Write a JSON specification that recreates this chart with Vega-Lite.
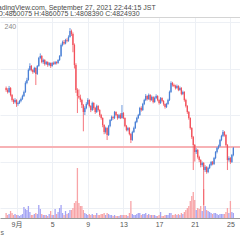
{
"$schema": "https://vega.github.io/schema/vega-lite/v6.json",
"autosize": "none",
"width": 240, "height": 201,
"padding": {"left": 0, "top": 17, "right": 0, "bottom": 22},
"background": "white",
"config": {"view": {"stroke": null}, "font": "Liberation Sans", "axis": {"labelOverlap": false, "labelBound": false, "labelFlush": false}},
"data": {"values": [
{"t":-28,"o":5332,"h":5345,"l":5300,"c":5315,"v":50},
{"t":-24,"o":5315,"h":5330,"l":5285,"c":5298,"v":30},
{"t":-20,"o":5298,"h":5350,"l":5290,"c":5332,"v":40},
{"t":-16,"o":5332,"h":5340,"l":5260,"c":5272,"v":70},
{"t":-12,"o":5272,"h":5280,"l":5215,"c":5229,"v":50},
{"t":-8,"o":5229,"h":5240,"l":5195,"c":5212,"v":30},
{"t":-4,"o":5212,"h":5245,"l":5200,"c":5229,"v":40},
{"t":0,"o":5229,"h":5235,"l":5170,"c":5195,"v":30},
{"t":4,"o":5195,"h":5215,"l":5180,"c":5203,"v":30},
{"t":8,"o":5203,"h":5230,"l":5195,"c":5221,"v":20},
{"t":12,"o":5221,"h":5250,"l":5210,"c":5238,"v":30},
{"t":16,"o":5238,"h":5275,"l":5230,"c":5264,"v":40},
{"t":20,"o":5264,"h":5310,"l":5255,"c":5298,"v":110},
{"t":24,"o":5298,"h":5390,"l":5290,"c":5375,"v":90},
{"t":28,"o":5375,"h":5420,"l":5365,"c":5401,"v":80},
{"t":32,"o":5401,"h":5500,"l":5395,"c":5487,"v":120},
{"t":36,"o":5487,"h":5545,"l":5478,"c":5522,"v":60},
{"t":40,"o":5522,"h":5530,"l":5475,"c":5487,"v":30},
{"t":44,"o":5487,"h":5495,"l":5455,"c":5470,"v":30},
{"t":48,"o":5470,"h":5515,"l":5462,"c":5504,"v":40},
{"t":52,"o":5504,"h":5510,"l":5358,"c":5453,"v":50},
{"t":56,"o":5453,"h":5530,"l":5445,"c":5522,"v":40},
{"t":60,"o":5522,"h":5600,"l":5515,"c":5590,"v":130},
{"t":64,"o":5590,"h":5630,"l":5580,"c":5608,"v":90},
{"t":68,"o":5608,"h":5615,"l":5545,"c":5556,"v":40},
{"t":72,"o":5556,"h":5585,"l":5540,"c":5573,"v":30},
{"t":76,"o":5573,"h":5580,"l":5525,"c":5539,"v":30},
{"t":80,"o":5539,"h":5565,"l":5530,"c":5556,"v":30},
{"t":84,"o":5556,"h":5562,"l":5515,"c":5530,"v":20},
{"t":88,"o":5530,"h":5555,"l":5520,"c":5547,"v":40},
{"t":92,"o":5547,"h":5552,"l":5505,"c":5522,"v":70},
{"t":96,"o":5522,"h":5555,"l":5515,"c":5547,"v":30},
{"t":100,"o":5547,"h":5560,"l":5530,"c":5539,"v":30},
{"t":104,"o":5539,"h":5565,"l":5532,"c":5556,"v":90},
{"t":108,"o":5556,"h":5562,"l":5535,"c":5547,"v":40},
{"t":112,"o":5547,"h":5580,"l":5540,"c":5573,"v":60},
{"t":116,"o":5573,"h":5615,"l":5565,"c":5608,"v":100},
{"t":120,"o":5608,"h":5715,"l":5600,"c":5702,"v":130},
{"t":124,"o":5702,"h":5740,"l":5690,"c":5728,"v":50},
{"t":128,"o":5728,"h":5745,"l":5705,"c":5715,"v":30},
{"t":132,"o":5715,"h":5755,"l":5708,"c":5745,"v":70},
{"t":136,"o":5745,"h":5760,"l":5725,"c":5738,"v":40},
{"t":140,"o":5738,"h":5785,"l":5730,"c":5771,"v":50},
{"t":144,"o":5771,"h":5848,"l":5765,"c":5823,"v":80},
{"t":148,"o":5823,"h":5835,"l":5780,"c":5797,"v":80},
{"t":152,"o":5797,"h":5810,"l":5640,"c":5702,"v":100},
{"t":156,"o":5702,"h":5715,"l":5500,"c":5530,"v":150},
{"t":160,"o":5530,"h":5545,"l":5290,"c":5315,"v":170},
{"t":164,"o":5315,"h":5330,"l":5117,"c":5264,"v":500},
{"t":168,"o":5264,"h":5320,"l":5240,"c":5250,"v":150},
{"t":172,"o":5250,"h":5275,"l":5210,"c":5229,"v":120},
{"t":176,"o":5229,"h":5240,"l":5160,"c":5186,"v":120},
{"t":180,"o":5186,"h":5195,"l":4960,"c":5126,"v":80},
{"t":184,"o":5126,"h":5175,"l":5100,"c":5160,"v":50},
{"t":188,"o":5160,"h":5210,"l":5150,"c":5195,"v":40},
{"t":192,"o":5195,"h":5245,"l":5185,"c":5229,"v":30},
{"t":196,"o":5229,"h":5235,"l":5165,"c":5178,"v":40},
{"t":200,"o":5178,"h":5185,"l":5125,"c":5143,"v":30},
{"t":204,"o":5143,"h":5215,"l":5135,"c":5203,"v":40},
{"t":208,"o":5203,"h":5210,"l":5145,"c":5160,"v":30},
{"t":212,"o":5160,"h":5170,"l":5110,"c":5126,"v":30},
{"t":216,"o":5126,"h":5190,"l":5118,"c":5178,"v":50},
{"t":220,"o":5178,"h":5185,"l":5130,"c":5143,"v":30},
{"t":224,"o":5143,"h":5150,"l":5085,"c":5100,"v":30},
{"t":228,"o":5100,"h":5110,"l":5060,"c":5074,"v":40},
{"t":232,"o":5074,"h":5080,"l":4995,"c":5014,"v":40},
{"t":236,"o":5014,"h":5020,"l":4935,"c":4954,"v":50},
{"t":240,"o":4954,"h":5000,"l":4940,"c":4988,"v":30},
{"t":244,"o":4988,"h":4995,"l":4885,"c":4928,"v":50},
{"t":248,"o":4928,"h":5015,"l":4920,"c":5006,"v":40},
{"t":252,"o":5006,"h":5065,"l":4995,"c":5057,"v":30},
{"t":256,"o":5057,"h":5095,"l":5048,"c":5083,"v":30},
{"t":260,"o":5083,"h":5092,"l":5060,"c":5074,"v":20},
{"t":264,"o":5074,"h":5135,"l":5065,"c":5126,"v":30},
{"t":268,"o":5126,"h":5132,"l":5090,"c":5100,"v":20},
{"t":272,"o":5100,"h":5108,"l":5060,"c":5074,"v":20},
{"t":276,"o":5074,"h":5110,"l":5068,"c":5100,"v":20},
{"t":280,"o":5100,"h":5115,"l":5065,"c":5074,"v":30},
{"t":284,"o":5074,"h":5186,"l":5068,"c":5117,"v":30},
{"t":288,"o":5117,"h":5125,"l":5065,"c":5074,"v":30},
{"t":292,"o":5074,"h":5080,"l":4995,"c":5006,"v":30},
{"t":296,"o":5006,"h":5015,"l":4960,"c":4971,"v":30},
{"t":300,"o":4971,"h":4998,"l":4960,"c":4988,"v":20},
{"t":304,"o":4988,"h":4995,"l":4925,"c":4937,"v":50},
{"t":308,"o":4937,"h":4945,"l":4859,"c":4885,"v":170},
{"t":312,"o":4885,"h":4965,"l":4878,"c":4954,"v":40},
{"t":316,"o":4954,"h":5000,"l":4945,"c":4988,"v":30},
{"t":320,"o":4988,"h":5050,"l":4980,"c":5040,"v":30},
{"t":324,"o":5040,"h":5085,"l":5030,"c":5074,"v":40},
{"t":328,"o":5074,"h":5110,"l":5065,"c":5100,"v":50},
{"t":332,"o":5100,"h":5170,"l":5092,"c":5160,"v":50},
{"t":336,"o":5160,"h":5175,"l":5130,"c":5143,"v":30},
{"t":340,"o":5143,"h":5205,"l":5135,"c":5195,"v":40},
{"t":344,"o":5195,"h":5240,"l":5185,"c":5229,"v":40},
{"t":348,"o":5229,"h":5280,"l":5220,"c":5264,"v":50},
{"t":352,"o":5264,"h":5270,"l":5225,"c":5238,"v":30},
{"t":356,"o":5238,"h":5285,"l":5230,"c":5272,"v":40},
{"t":360,"o":5272,"h":5280,"l":5215,"c":5229,"v":30},
{"t":364,"o":5229,"h":5268,"l":5222,"c":5255,"v":30},
{"t":368,"o":5255,"h":5262,"l":5200,"c":5212,"v":30},
{"t":372,"o":5212,"h":5258,"l":5205,"c":5246,"v":30},
{"t":376,"o":5246,"h":5278,"l":5238,"c":5264,"v":20},
{"t":380,"o":5264,"h":5270,"l":5218,"c":5229,"v":20},
{"t":384,"o":5229,"h":5235,"l":5190,"c":5203,"v":30},
{"t":388,"o":5203,"h":5255,"l":5195,"c":5246,"v":60},
{"t":392,"o":5246,"h":5252,"l":5210,"c":5221,"v":20},
{"t":396,"o":5221,"h":5228,"l":5180,"c":5195,"v":20},
{"t":400,"o":5195,"h":5200,"l":5155,"c":5169,"v":30},
{"t":404,"o":5169,"h":5205,"l":5160,"c":5195,"v":30},
{"t":408,"o":5195,"h":5240,"l":5188,"c":5229,"v":30},
{"t":412,"o":5229,"h":5310,"l":5220,"c":5298,"v":50},
{"t":416,"o":5298,"h":5390,"l":5290,"c":5375,"v":50},
{"t":420,"o":5375,"h":5385,"l":5345,"c":5358,"v":30},
{"t":424,"o":5358,"h":5370,"l":5340,"c":5350,"v":30},
{"t":428,"o":5350,"h":5360,"l":5320,"c":5332,"v":40},
{"t":432,"o":5332,"h":5362,"l":5325,"c":5350,"v":30},
{"t":436,"o":5350,"h":5356,"l":5305,"c":5315,"v":40},
{"t":440,"o":5315,"h":5345,"l":5308,"c":5332,"v":30},
{"t":444,"o":5332,"h":5340,"l":5270,"c":5281,"v":50},
{"t":448,"o":5281,"h":5310,"l":5272,"c":5298,"v":40},
{"t":452,"o":5298,"h":5305,"l":5215,"c":5229,"v":60},
{"t":456,"o":5229,"h":5240,"l":5165,"c":5178,"v":80},
{"t":460,"o":5178,"h":5185,"l":5110,"c":5126,"v":100},
{"t":464,"o":5126,"h":5135,"l":5060,"c":5074,"v":120},
{"t":468,"o":5074,"h":5080,"l":4975,"c":4988,"v":170},
{"t":472,"o":4988,"h":4995,"l":4895,"c":4911,"v":220},
{"t":476,"o":4911,"h":4920,"l":4627,"c":4842,"v":260},
{"t":480,"o":4842,"h":4850,"l":4700,"c":4782,"v":180},
{"t":484,"o":4782,"h":4815,"l":4765,"c":4799,"v":80},
{"t":488,"o":4799,"h":4808,"l":4725,"c":4739,"v":100},
{"t":492,"o":4739,"h":4750,"l":4695,"c":4713,"v":90},
{"t":496,"o":4713,"h":4720,"l":4650,"c":4670,"v":120},
{"t":500,"o":4670,"h":4700,"l":4655,"c":4687,"v":70},
{"t":504,"o":4687,"h":4695,"l":4326,"c":4627,"v":290},
{"t":508,"o":4627,"h":4668,"l":4610,"c":4653,"v":120},
{"t":512,"o":4653,"h":4660,"l":4595,"c":4610,"v":80},
{"t":516,"o":4610,"h":4655,"l":4600,"c":4644,"v":70},
{"t":520,"o":4644,"h":4680,"l":4635,"c":4670,"v":60},
{"t":524,"o":4670,"h":4705,"l":4660,"c":4696,"v":50},
{"t":528,"o":4696,"h":4705,"l":4668,"c":4679,"v":40},
{"t":532,"o":4679,"h":4740,"l":4670,"c":4730,"v":50},
{"t":536,"o":4730,"h":4790,"l":4720,"c":4782,"v":50},
{"t":540,"o":4782,"h":4825,"l":4770,"c":4816,"v":40},
{"t":544,"o":4816,"h":4845,"l":4805,"c":4834,"v":30},
{"t":548,"o":4834,"h":4895,"l":4825,"c":4885,"v":40},
{"t":552,"o":4885,"h":4930,"l":4875,"c":4920,"v":40},
{"t":556,"o":4920,"h":4971,"l":4910,"c":4954,"v":40},
{"t":560,"o":4954,"h":4962,"l":4915,"c":4928,"v":40},
{"t":564,"o":4928,"h":4935,"l":4830,"c":4842,"v":60},
{"t":568,"o":4842,"h":4850,"l":4627,"c":4713,"v":100},
{"t":572,"o":4713,"h":4745,"l":4700,"c":4730,"v":50},
{"t":576,"o":4730,"h":4738,"l":4680,"c":4696,"v":170},
{"t":580,"o":4696,"h":4765,"l":4688,"c":4756,"v":60},
{"t":584,"o":4756,"h":4825,"l":4745,"c":4816,"v":50}
]},
"layer": [
 {
  "mark": {"type": "bar", "size": 1.3},
  "encoding": {
   "x": {"field": "t", "type": "quantitative", "scale": {"domain": [-31, 588.4], "nice": false, "zero": false},
         "axis": {"orient": "top", "labels": false, "ticks": false, "grid": false, "domain": true, "domainColor": "#d4d4d4",
                  "title": "O:4860075 H:4860075 L:4808390 C:4824930", "titleX": -3, "titleY": -2, "titleAlign": "left", "titleBaseline": "alphabetic",
                  "titleAngle": 0, "titleFontSize": 7, "titleFontWeight": "normal", "titleColor": "#4a4a4a"}},
   "y": {"field": "v", "type": "quantitative", "stack": null, "scale": {"domain": [0, 2010], "nice": false, "zero": true},
         "axis": {"orient": "left", "labels": false, "ticks": false, "grid": false, "domain": false,
                  "title": "TradingView.com, September 27, 2021 22:44:15 JST", "titleX": -9, "titleY": -8, "titleAlign": "left", "titleBaseline": "alphabetic",
                  "titleAngle": 0, "titleFontSize": 7, "titleFontWeight": "normal", "titleColor": "#4a4a4a"}},
   "color": {"condition": {"test": "datum.c >= datum.o", "value": "#a4a4f4"}, "value": "#f8a4a7"}
  }
 },
 {
  "layer": [
   {
    "mark": {"type": "rule", "stroke": "#f7b2b5", "strokeWidth": 2},
    "encoding": {"y": {"datum": 4825, "title": "240"}}
   },
   {
    "mark": {"type": "rule", "strokeWidth": 0.8},
    "encoding": {
     "x": {"field": "t", "type": "quantitative",
           "axis": {"values": [0, 96, 192, 288, 384, 480, 576], "labelExpr": "datum.value == 0 ? '9月' : toString(1 + datum.value / 24)",
                    "labelOverlap": false, "labelBound": false,
                    "grid": true, "gridColor": "#edf0f5", "ticks": false, "domain": true, "domainColor": "#9a9a9a",
                    "labelFontSize": 7, "labelColor": "#555555", "labelPadding": 2, "labelFont": "Liberation Sans, Noto Sans CJK JP",
                    "title": "s", "titleX": 0, "titleY": 16, "titleAlign": "left", "titleBaseline": "alphabetic",
                    "titleFontSize": 7, "titleFontWeight": "normal", "titleColor": "#666666"}},
     "y": {"field": "l", "type": "quantitative", "scale": {"domain": [4214.4, 5943], "nice": false, "zero": false},
           "axis": {"orient": "left", "labels": false, "ticks": false, "domain": false, "grid": true, "gridColor": "#edf0f5",
                    "values": [4300, 4400, 4500, 4600, 4700, 4800, 4900, 5000, 5100, 5200, 5300, 5400, 5500, 5600, 5700, 5800, 5900],
                    "title": "240", "titleX": 4, "titleY": 11, "titleAlign": "left", "titleBaseline": "alphabetic",
                    "titleAngle": 0, "titleFontSize": 7, "titleFontWeight": "normal", "titleColor": "#8a8a8a"}},
     "y2": {"field": "h"},
     "color": {"condition": {"test": "datum.c >= datum.o", "value": "#4a80d6"}, "value": "#f2505a"}
    }
   },
   {
    "mark": {"type": "bar", "size": 1.3},
    "encoding": {
     "x": {"field": "t", "type": "quantitative", "axis": {"values": [0, 96, 192, 288, 384, 480, 576], "labelOverlap": false}},
     "y": {"field": "o", "type": "quantitative", "title": "240"},
     "y2": {"field": "c"},
     "color": {"condition": {"test": "datum.c >= datum.o", "value": "#4a80d6"}, "value": "#f2505a"}
    }
   }
  ]
 }
],
"resolve": {"scale": {"y": "independent"}, "axis": {"x": "independent"}}
}
